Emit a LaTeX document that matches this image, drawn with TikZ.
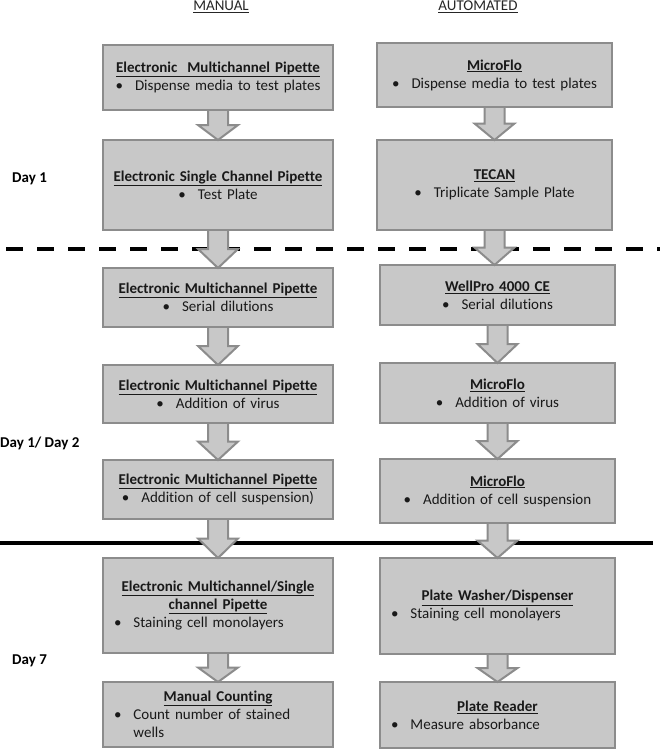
\documentclass[tikz,border=0pt]{standalone}
\usepackage{fontspec}
\setmainfont[Ligatures={NoCommon,NoRequired,NoContextual}]{Carlito}
\usetikzlibrary{positioning, calc}
\definecolor{boxfill}{HTML}{C8C8C8}
\definecolor{boxedge}{HTML}{8C8C8C}
\newcommand{\ttl}[1]{\underline{\textbf{#1}}}
\newcommand{\bul}{\textbullet\hspace{12pt}}
\newcommand{\stagearrow}[2]{%
  \draw[flowarr] let \p1=(#1.south), \p2=(#2.north), \p3=($(\p1)!0.5!(\p2)$) in
    (\x1-10pt,\y1-1pt) -- (\x1-10pt,\y3) -- (\x1-20pt,\y3) -- (\x1,\y2)
    -- (\x1+20pt,\y3) -- (\x1+10pt,\y3) -- (\x1+10pt,\y1-1pt);}

\begin{document}
\begin{tikzpicture}[
    x=1pt, y=-1pt,
    font=\fontsize{15}{18}\selectfont,
    stage/.style={draw=boxedge, fill=boxfill, line width=2pt, inner xsep=8pt, inner ysep=3pt, outer sep=0pt, align=center, text=black!90},
    lstage/.style={stage, text width=214pt},
    rstage/.style={stage, text width=219pt},
    hdr/.style={inner sep=0pt, text=black!85},
    lab/.style={inner sep=0pt, anchor=west, font=\fontsize{15}{18}\selectfont\bfseries},
    flowarr/.style={draw=boxedge, fill=boxfill, line width=2pt},
    sep/.style={line width=4pt, draw=black},
  ]
  \useasboundingbox (0,0) rectangle (660,750);
  % ---- column heads
  \node[hdr] (man) at (221,7) {\underline{MANUAL}};
  \node[hdr] (aut) at (478,7) {\underline{AUTOMATED}};
  % ---- manual column
  \node[lstage, minimum height=65pt] (m1) at (218,77.5) {\ttl{Electronic\ \ Multichannel Pipette}\\ \bul Dispense media to test plates};
  \node[lstage, minimum height=90pt, below=30pt of m1] (m2) {\ttl{Electronic Single Channel Pipette}\\ \bul Test Plate};
  \node[lstage, minimum height=59pt, below=38pt of m2] (m3) {\ttl{Electronic Multichannel Pipette}\\ \bul Serial dilutions};
  \node[lstage, minimum height=58pt, below=38pt of m3] (m4) {\ttl{Electronic Multichannel Pipette}\\ \bul Addition of virus};
  \node[lstage, minimum height=59pt, below=37pt of m4] (m5) {\ttl{Electronic Multichannel Pipette}\\ \bul Addition of cell suspension)};
  \node[lstage, minimum height=95pt, below=39pt of m5, align=left] (m6) {{\centering\ttl{Electronic Multichannel/Single}\\ \ttl{channel Pipette}\par}\hspace*{3pt}\bul Staining cell monolayers};
  \node[lstage, minimum height=65pt, below=29pt of m6, align=left] (m7) {{\centering\ttl{Manual Counting}\par}\hspace*{3pt}\textbullet\hspace{12pt}\parbox[t]{180pt}{Count number of stained\\ wells}};
  % ---- automated column
  \node[rstage, minimum height=64pt] (a1) at (494.5,75) {\ttl{MicroFlo}\\ \bul Dispense media to test plates};
  \node[rstage, minimum height=90pt, below=33pt of a1] (a2) {\ttl{TECAN}\\ \bul Triplicate Sample Plate};
  \node[rstage, minimum height=60pt, below=35pt of a2, xshift=3pt] (a3) {\ttl{WellPro 4000 CE}\\ \bul Serial dilutions};
  \node[rstage, minimum height=60pt, below=38pt of a3] (a4) {\ttl{MicroFlo}\\ \bul Addition of virus};
  \node[rstage, minimum height=64pt, below=36pt of a4] (a5) {\ttl{MicroFlo}\\ \bul Addition of cell suspension};
  \node[rstage, minimum height=96pt, below=35pt of a5, align=left] (a6) {{\centering\ttl{Plate Washer/Dispenser}\par}\hspace*{3pt}\bul Staining cell monolayers};
  \node[rstage, minimum height=66pt, below=28pt of a6, align=left] (a7) {{\centering\ttl{Plate Reader}\par}\hspace*{3pt}\bul Measure absorbance};
  % ---- day labels
  \node[lab] (d1) at (12,179) {Day 1};
  \node[lab] (d12) at (0,443) {Day 1/ Day 2};
  \node[lab] (d7) at (12,661) {Day 7};
  % ---- day separators
  \draw[sep, dash pattern=on 17pt off 14pt] (6,249) -- (660,249);
  \draw[sep] (0,543) -- (653,543);
  % ---- block arrows
  \stagearrow{m1}{m2} \stagearrow{m2}{m3} \stagearrow{m3}{m4}
  \stagearrow{m4}{m5} \stagearrow{m5}{m6} \stagearrow{m6}{m7}
  \stagearrow{a1}{a2} \stagearrow{a2}{a3} \stagearrow{a3}{a4}
  \stagearrow{a4}{a5} \stagearrow{a5}{a6} \stagearrow{a6}{a7}
\end{tikzpicture}
\end{document}
